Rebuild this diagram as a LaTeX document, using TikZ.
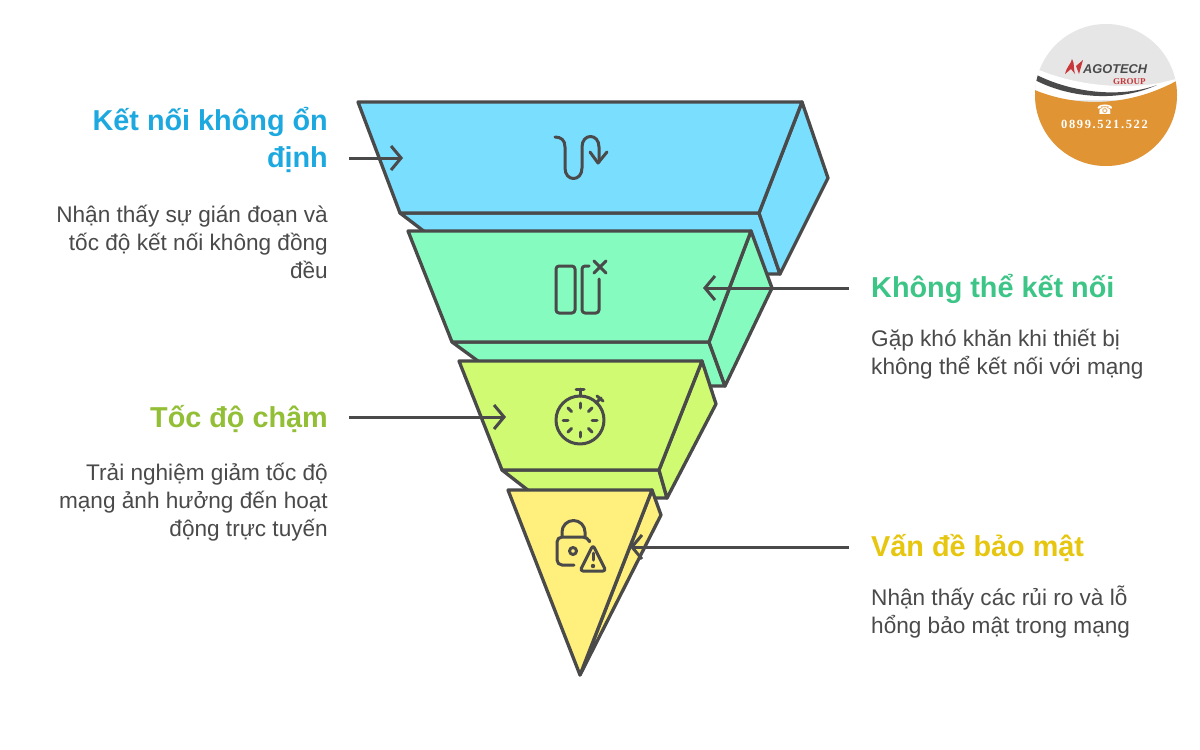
\documentclass[tikz,border=0pt]{standalone}
\usepackage{fontspec}
\setmainfont{Liberation Sans}
\newfontfamily\logofont{Liberation Serif}
\newfontfamily\numberfont[LetterSpace=13]{Liberation Serif}
\newfontfamily\symfont{DejaVu Sans}
\usetikzlibrary{arrows.meta}
\definecolor{inkgray}{HTML}{4A4A4A}
\definecolor{faceblue}{HTML}{7ADEFF}
\definecolor{facegreen}{HTML}{85FBC0}
\definecolor{facelime}{HTML}{CFFA72}
\definecolor{faceyellow}{HTML}{FFEF7C}
\definecolor{headblue}{HTML}{1DA9DF}
\definecolor{headgreen}{HTML}{3CC586}
\definecolor{headlime}{HTML}{92BF35}
\definecolor{headyellow}{HTML}{E6C60E}
\definecolor{logoorange}{HTML}{E09433}
\definecolor{logogray}{HTML}{E6E6E6}
\definecolor{logored}{HTML}{C8373A}
\tikzset{
  slab/.style={draw=inkgray,line width=3.3pt,line join=round},
  icon/.style={draw=inkgray,line width=3pt,line cap=round,line join=round},
  pointer/.style={draw=inkgray,line width=3pt,-{Straight Barb[length=10pt,width=24pt,line width=3pt]}},
  headtext/.style={font=\fontsize{28.8}{37}\selectfont\bfseries,inner sep=0pt,align=right,anchor=north east},
  bodytext/.style={font=\fontsize{22.6}{28}\selectfont,text=inkgray,inner sep=0pt,align=right,anchor=north east},
  headleft/.style={headtext,align=left,anchor=north west},
  bodyleft/.style={bodytext,align=left,anchor=north west}
}
\begin{document}
\begin{tikzpicture}[x=1pt,y=-1pt]
\useasboundingbox (0,0) rectangle (1200,750);
\fill [white] (0,0) rectangle (1200,750);

% blue slab
\draw [slab,fill=faceblue] (400,213) -- (759,213) -- (780,274) -- (480,274) -- cycle;
\draw [slab,fill=faceblue] (802,102) -- (828,178) -- (780,274) -- (759,213) -- cycle;
\draw [slab,fill=faceblue] (358,102) -- (802,102) -- (759,213) -- (400,213) -- cycle;
% green slab
\draw [slab,fill=facegreen] (452,342) -- (709,342) -- (725,386) -- (512,386) -- cycle;
\draw [slab,fill=facegreen] (751,231) -- (772,288) -- (725,386) -- (709,342) -- cycle;
\draw [slab,fill=facegreen] (408,231) -- (751,231) -- (709,342) -- (452,342) -- cycle;
% lime slab
\draw [slab,fill=facelime] (502,470) -- (659,470) -- (667,498) -- (538,498) -- cycle;
\draw [slab,fill=facelime] (702,361) -- (716,404) -- (667,498) -- (659,470) -- cycle;
\draw [slab,fill=facelime] (459,361) -- (702,361) -- (659,470) -- (502,470) -- cycle;
% yellow tip
\draw [slab,fill=faceyellow] (652,490) -- (661,515) -- (580,675) -- cycle;
\draw [slab,fill=faceyellow] (508,490) -- (652,490) -- (580,675) -- cycle;

% wave icon
\draw [icon] (555,137) .. controls (561,137) and (565,140) .. (565,147) -- (565,168)
  .. controls (565,182) and (582,182) .. (582,168) -- (582,147)
  .. controls (582,133) and (599,133) .. (599,147) -- (599,162);
\draw [icon] (590,152) -- (598,163) -- (607,152);
% unplugged icon
\draw [icon,rounded corners=3pt] (556,266) rectangle (575,313);
\draw [icon,rounded corners=3pt] (589,266) -- (582,266) -- (582,313) -- (599,313) -- (599,279);
\draw [icon] (594,261) -- (606,273);
\draw [icon] (606,261) -- (594,273);
% stopwatch icon
\draw [icon] (580,420) circle (24);
\draw [icon] (580,389) -- (580,396);
\draw [icon] (576,389) -- (584,389);
\draw [icon] (596,403) -- (601,398);
\draw [icon] (597,396) -- (603,401);
\foreach \a in {0,45,...,315} {
\draw [icon] ({580+12*cos(\a)},{420+12*sin(\a)}) -- ({580+17*cos(\a)},{420+17*sin(\a)});}
% lock icon
\draw [icon] (562,537) -- (562,532) arc (180:360:11.5) -- (585,537);
\draw [icon,rounded corners=5pt] (589,540) -- (588,537) -- (557,537) -- (557,565) -- (574,565);
\draw [icon] (573,551) circle (3.5);
\draw [icon,rounded corners=3pt] (593,545) -- (606,571) -- (580,571) -- cycle;
\draw [icon] (593,553) -- (593,560);
\fill [inkgray] (593,566) circle (2.2);

% pointers
\coordinate (blueend) at (349,158);
\coordinate (bluetip) at (403,158);
\coordinate (greenend) at (849,288);
\coordinate (greentip) at (703,288);
\coordinate (limeend) at (349,417);
\coordinate (limetip) at (506,417);
\coordinate (yellowend) at (849,547);
\coordinate (yellowtip) at (630,547);
\draw [pointer] (blueend) -- (bluetip);
\draw [pointer] (greenend) -- (greentip);
\draw [pointer] (limeend) -- (limetip);
\draw [pointer] (yellowend) -- (yellowtip);

% labels
\node [headtext,text=headblue] (bluehead) at (328,107) {Kết nối không ổn\\định};
\node [bodytext] (bluebody) at (328,205) {Nhận thấy sự gián đoạn và\\tốc độ kết nối không đồng\\đều};
\node [headleft,text=headgreen] (greenhead) at (871,274) {Không thể kết nối};
\node [bodyleft] (greenbody) at (871,329) {Gặp khó khăn khi thiết bị\\không thể kết nối với mạng};
\node [headtext,text=headlime] (limehead) at (328,405) {Tốc độ chậm};
\node [bodytext] (limebody) at (328,463) {Trải nghiệm giảm tốc độ\\mạng ảnh hưởng đến hoạt\\động trực tuyến};
\node [headleft,text=headyellow] (yellowhead) at (871,534) {Vấn đề bảo mật};
\node [bodyleft] (yellowbody) at (871,586) {Nhận thấy các rủi ro và lỗ\\hổng bảo mật trong mạng};

% logo
\begin{scope}
\clip (1106,95) circle (71);
\fill [logogray] (1030,20) rectangle (1180,170);
\fill [white] (1030,66) .. controls (1070,85) and (1120,90) .. (1160,83) -- (1180,78) -- (1180,100) -- (1030,100) -- cycle;
\fill [inkgray] (1035,74) .. controls (1065,90) and (1115,100) .. (1157,85) .. controls (1115,104) and (1065,96) .. (1035,80) -- cycle;
\fill [logoorange] (1030,88) .. controls (1070,106) and (1125,110) .. (1180,79) -- (1180,170) -- (1030,170) -- cycle;
\end{scope}
\fill [logored] (1065,74) .. controls (1067,66) and (1071,64) .. (1072,59) .. controls (1075,64) and (1073,68) .. (1075,74) -- (1071,69) -- cycle;
\fill [logored] (1076,66) -- (1083,60) -- (1079,74) -- cycle;
\node [inner sep=0pt,anchor=west,text=inkgray,font=\fontsize{12.8}{14}\selectfont\bfseries\itshape] (logoname) at (1083,69) {AGOTECH};
\node [inner sep=0pt,anchor=west,text=logored,font=\logofont\fontsize{9}{10}\selectfont\bfseries] (logogroup) at (1113,82) {GROUP};
\node [inner sep=0pt,text=white,font=\symfont\fontsize{13}{13}\selectfont] (logophone) at (1105,110) {☎};
\node [inner sep=0pt,text=white,font=\numberfont\fontsize{12.5}{13}\selectfont\bfseries,anchor=west] (logonumber) at (1061,124) {0899.521.522};
\end{tikzpicture}
\end{document}
